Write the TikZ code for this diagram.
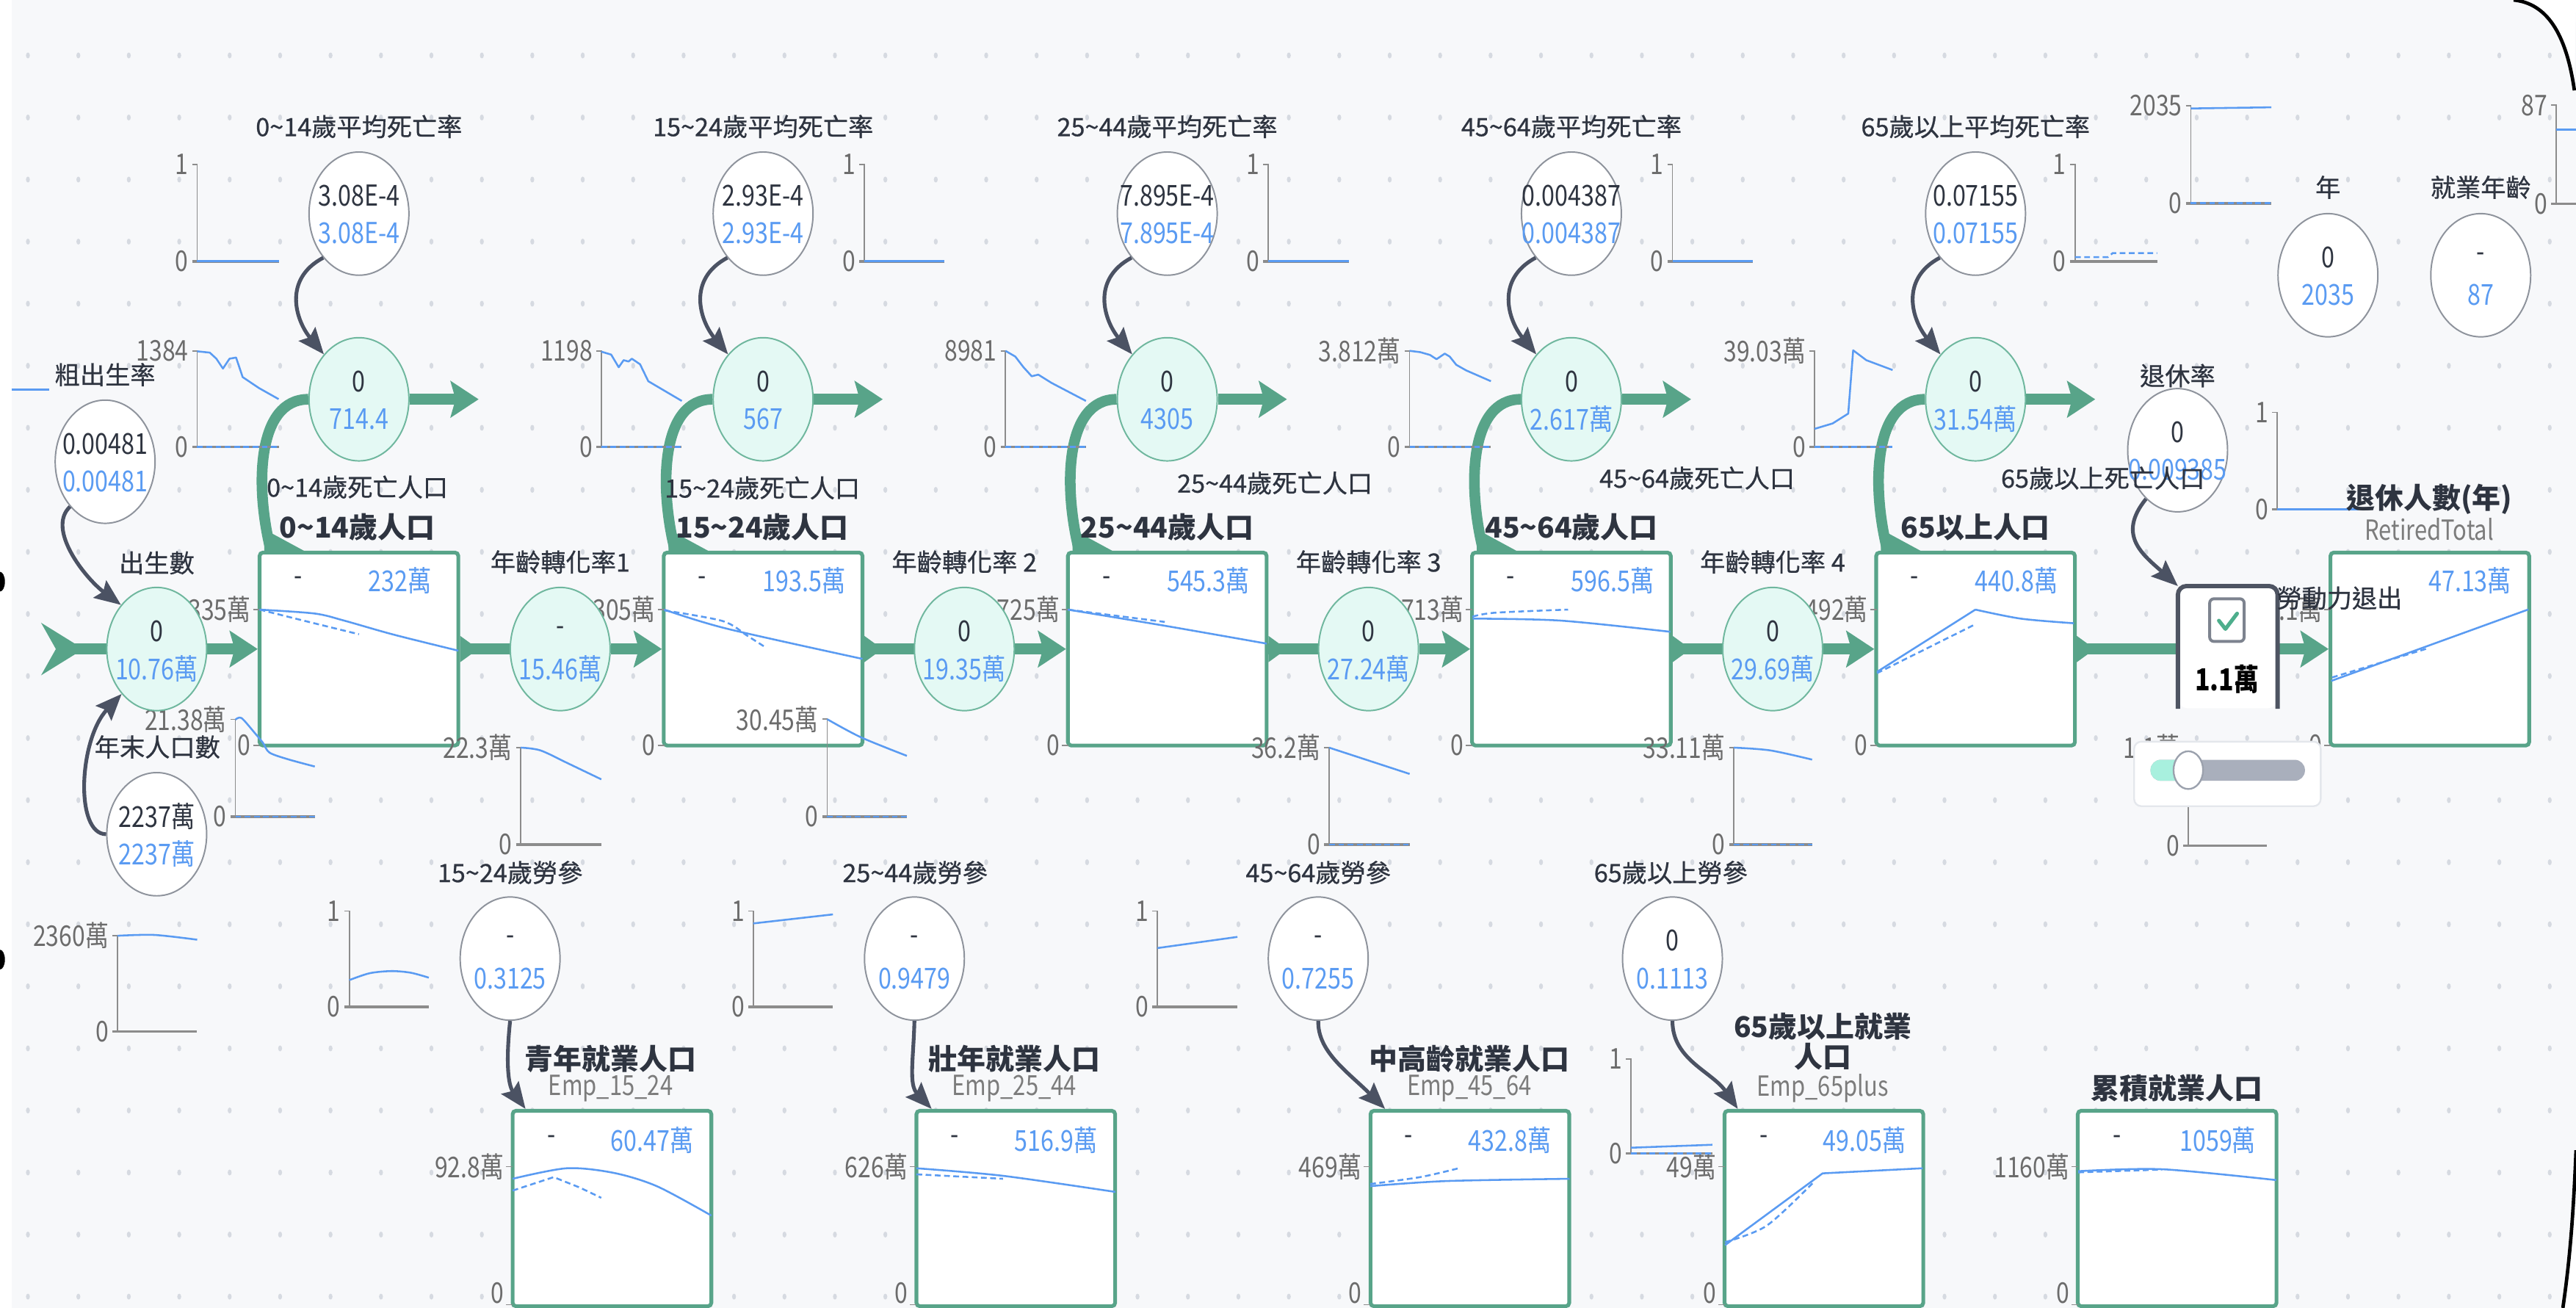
\documentclass[tikz,border=0pt]{standalone}
\usepackage{fontspec}
\setmainfont{Noto Sans CJK TC}
\newfontfamily\numf{Noto Sans CJK TC}[FakeStretch=0.82]
\newfontfamily\medf{Noto Sans CJK TC}[FakeBold=0.7]
\usetikzlibrary{arrows.meta,shapes.geometric,calc}
\pgfdeclarelayer{bgl}
\pgfdeclarelayer{mid}
\pgfsetlayers{bgl,mid,main}
\definecolor{bgc}{HTML}{F7F8FA}
\definecolor{dotc}{HTML}{D6DAE1}
\definecolor{pipec}{HTML}{58A489}
\definecolor{fcfill}{HTML}{E4F9F4}
\definecolor{fcdraw}{HTML}{6FB79E}
\definecolor{acdraw}{HTML}{8E939C}
\definecolor{infoc}{HTML}{4B5263}
\definecolor{bluec}{HTML}{5A9BF2}
\definecolor{axisc}{HTML}{8C8C8C}
\definecolor{tickc}{HTML}{6C6C6C}
\definecolor{labc}{HTML}{2E3440}
\definecolor{subc}{HTML}{7C7C7C}
\definecolor{convc}{HTML}{4E5462}
\definecolor{chkc}{HTML}{7D838F}
\definecolor{checkg}{HTML}{4DAE8C}
\definecolor{trackc}{HTML}{A9AFBC}
\definecolor{mintc}{HTML}{A8F0DE}
\definecolor{knobc}{HTML}{9BA1AD}
\definecolor{panelc}{HTML}{E4E7EC}
\newcommand{\tld}{\char"7E\relax}
\newcommand{\cnode}[6]{%
  \node[#1] (#2) at (#3,#4) {};
  \node[topv] (#2a) at (#3,#4-11) {#5};
  \node[botv] (#2b) at (#3,#4+12) {#6};}
\newcommand{\spark}[7]{%
  \draw[axv] (#2-3,#3) -- (#2,#3) -- (#2,#4);
  \draw[axh] (#2-3,#4) -- (#5,#4);
  \node[ticklab] (#1t) at (#2-5,#3) {#6};
  \node[ticklab] (#1b) at (#2-5,#4) {#7};}
\newcommand{\boxaxis}[6]{%
  \draw[axv] (#2-4,#3) -- (#2,#3);
  \draw[axv] (#2-4,#4) -- (#2,#4);
  \node[ticklab] (#1t) at (#2-5,#3) {#5};
  \node[ticklab] (#1z) at (#2-5,#6) {0};}
\begin{document}
\begin{tikzpicture}[x=0.02cm,y=-0.02cm,
 pipe/.style={draw=pipec,line width=0.13cm},
 phead/.style={-{Stealth[length=0.34cm,width=0.44cm,inset=0.06cm]}},
 info/.style={draw=infoc,line width=1.3pt,-{Stealth[length=0.32cm,width=0.26cm,inset=0.05cm]}},
 fc/.style={ellipse,draw=fcdraw,line width=0.5pt,fill=fcfill,minimum width=1.216cm,minimum height=1.5cm,inner sep=0pt},
 ac/.style={ellipse,draw=acdraw,line width=0.5pt,fill=white,minimum width=1.216cm,minimum height=1.5cm,inner sep=0pt},
 topv/.style={font=\numf\fontsize{10}{12}\selectfont,text=labc,inner sep=0pt},
 botv/.style={font=\numf\fontsize{10}{12}\selectfont,text=bluec,inner sep=0pt},
 stockbox/.style={rectangle,draw=pipec,line width=1.3pt,fill=white,minimum width=2.42cm,minimum height=2.35cm,inner sep=0pt,rounded corners=1.2pt},
 empbox/.style={stockbox,minimum height=2.38cm},
 auxlab/.style={font=\medf\fontsize{8.7}{10}\selectfont,text=labc,inner sep=0pt},
 stocklab/.style={font=\bfseries\fontsize{9.9}{12}\selectfont,text=labc,inner sep=0pt},
 sublab/.style={font=\numf\fontsize{9.6}{11}\selectfont,text=subc,inner sep=0pt},
 ticklab/.style={font=\numf\fontsize{9.9}{11}\selectfont,text=tickc,inner sep=0pt,anchor=east},
 axv/.style={draw=axisc,line width=0.45pt},
 axh/.style={draw=axisc,line width=0.9pt},
 bl/.style={draw=bluec,line width=0.65pt,line join=round},
 bld/.style={draw=bluec,line width=0.65pt,dash pattern=on 2pt off 1.2pt},
]
\useasboundingbox (0,0) rectangle (1568,796);
\begin{pgfonlayer}{bgl}
\fill[white] (0,0) rectangle (1568,796);
\fill[bgc] (7,0) rectangle (1568,796);
\foreach \i in {0,...,50}{\foreach \j in {-1,...,19}{\fill[dotc] (17+30.7*\i,71.5+37.77*\j) ellipse [x radius=0.024cm,y radius=0.036cm];}}
\end{pgfonlayer}

% ---------- stock boxes ----------
\node[stockbox] (s1) at (218.5,395) {};
\node[stockbox] (s2) at (464.5,395) {};
\node[stockbox] (s3) at (710.5,395) {};
\node[stockbox] (s4) at (956.5,395) {};
\node[stockbox] (s5) at (1202.5,395) {};
\node[stockbox] (ret) at (1479,395) {};
\node[empbox] (e1) at (372.5,735.5) {};
\node[empbox] (e2) at (618.3,735.5) {};
\node[empbox] (e3) at (894.7,735.5) {};
\node[empbox] (e4) at (1110.2,735.5) {};
\node[empbox] (e5) at (1325.2,735.5) {};

% box axes
\boxaxis{s1}{158}{371}{453.7}{335萬}{453.7}
\boxaxis{s2}{404.3}{371}{453.7}{305萬}{453.7}
\boxaxis{s3}{650.3}{371}{453.7}{725萬}{453.7}
\boxaxis{s4}{896.3}{371}{453.7}{713萬}{453.7}
\boxaxis{s5}{1142.3}{371}{453.7}{492萬}{453.7}
\boxaxis{rt}{1418.8}{371}{453.7}{1.1萬}{453.7}
\boxaxis{e1}{312}{710}{794}{92.8萬}{787}
\boxaxis{e2}{557.8}{710}{794}{626萬}{787}
\boxaxis{e3}{834}{710}{794}{469萬}{787}
\boxaxis{e4}{1050}{710}{794}{49萬}{787}
\boxaxis{e5}{1265}{710}{794}{1160萬}{787}

% box lines
\draw[bl] plot[smooth] coordinates {(158,371) (191.6,373.4) (209.5,377.7) (239.5,386.2) (279,396)};
\draw[bld] plot[smooth] coordinates {(158,371) (190,379) (218.5,386)};
\draw[bl] plot[smooth] coordinates {(404.3,371) (442,382.5) (525,401)};
\draw[bld] plot[smooth] coordinates {(404.5,371.5) (440,378) (455,387) (466,394)};
\draw[bl] plot[smooth] coordinates {(650,371) (710,381) (771,391.7)};
\draw[bld] (650,371) -- (709,378.5);
\draw[bl] plot[smooth] coordinates {(896.3,376.5) (950,377.7) (1016.7,384.5)};
\draw[bld] plot[smooth] coordinates {(896.3,375.3) (910,372.9) (954.5,371)};
\draw[bl] (1142.5,408.9) -- (1202.4,371);
\draw[bl] plot[smooth] coordinates {(1202.4,371) (1230,376.5) (1262.3,379.3)};
\draw[bld] (1142.5,409.7) -- (1201,380.6);
\draw[bl] (1419,414.4) -- (1539,370.9);
\draw[bld] (1419.5,412.3) -- (1477,394.8);
\draw[bl] plot[smooth] coordinates {(312,717.4) (345,711) (373.5,713.8) (400,722) (433,739.8)};
\draw[bld] (312,724.6) -- (337,716.4) -- (353,722.8) -- (366,729);
\draw[bl] plot[smooth] coordinates {(557.8,711) (610.5,715.6) (678.9,725.4)};
\draw[bld] (557.8,714.7) -- (610.5,717.4);
\draw[bl] plot[smooth] coordinates {(834,721.9) (880,718.8) (955.4,717.4)};
\draw[bld] plot[smooth] coordinates {(834,720.6) (864.4,716.4) (887.9,711)};
\draw[bl] (1050,757.8) -- (1109.4,714.1) -- (1170.3,711);
\draw[bld] plot[smooth] coordinates {(1050,756) (1075.3,746) (1103.4,720)};
\draw[bl] plot[smooth] coordinates {(1265,712.8) (1316,711.6) (1385.5,718.2)};
\draw[bld] (1265,713.5) -- (1316,711.8);

% box values
\node[topv] (s1m) at (181.5,353.5) {-};
\node[botv] (s1v) at (243.5,353.5) {232萬};
\node[topv] (s2m) at (427.5,353.5) {-};
\node[botv] (s2v) at (489.5,353.5) {193.5萬};
\node[topv] (s3m) at (673.5,353.5) {-};
\node[botv] (s3v) at (735.5,353.5) {545.3萬};
\node[topv] (s4m) at (919.5,353.5) {-};
\node[botv] (s4v) at (981.5,353.5) {596.5萬};
\node[topv] (s5m) at (1165.5,353.5) {-};
\node[botv] (s5v) at (1227.5,353.5) {440.8萬};
\node[botv] (retv) at (1503.5,353.5) {47.13萬};
\node[topv] (e1m) at (335.5,694) {-};
\node[botv] (e1v) at (397,694) {60.47萬};
\node[topv] (e2m) at (581.3,694) {-};
\node[botv] (e2v) at (642.8,694) {516.9萬};
\node[topv] (e3m) at (857.5,694) {-};
\node[botv] (e3v) at (919,694) {432.8萬};
\node[topv] (e4m) at (1073.5,694) {-};
\node[botv] (e4v) at (1135,694) {49.05萬};
\node[topv] (e5m) at (1288.5,694) {-};
\node[botv] (e5v) at (1350,694) {1059萬};

% ---------- sparkline charts ----------
\draw[bl] (7,237) -- (30,237);
\spark{rc1}{120}{100}{159}{170}{1}{0}
\draw[bl] (120,159) -- (170,159);
\spark{rc2}{526}{100}{159}{575}{1}{0}
\draw[bl] (526,159) -- (575,159);
\spark{rc3}{772}{100}{159}{821}{1}{0}
\draw[bl] (772,159) -- (821,159);
\spark{rc4}{1018}{100}{159}{1067}{1}{0}
\draw[bl] (1018,159) -- (1067,159);
\spark{rc5}{1263}{100}{159}{1313}{1}{0}
\draw[bld] (1263,156.5) -- (1283,156.5) -- (1286,154) -- (1313,154);

\spark{dc1}{120}{213.5}{272}{170}{1384}{0}
\draw[bld] (120,272) -- (170,272);
\draw[bl] (120,213.8) -- (127.7,214.6) -- (131.7,218.3) -- (135.7,224.3) -- (139.7,218.3) -- (143.7,217.6) -- (147.7,229.5) -- (157.7,236.2) -- (169.6,242.9);
\spark{dc2}{366}{213.5}{272}{415}{1198}{0}
\draw[bld] (366,272) -- (415,272);
\draw[bl] (366,214) -- (372,215.8) -- (376.6,223.5) -- (379.6,219.2) -- (382.6,220) -- (384.6,218.3) -- (389.6,221.7) -- (394.6,232) -- (415,244);
\spark{dc3}{612}{213.5}{272}{661}{8981}{0}
\draw[bld] (612,272) -- (661,272);
\draw[bl] (612,213.5) -- (618,217) -- (623,223.5) -- (628,229) -- (632,228) -- (640,233) -- (661,244);
\spark{dc4}{858}{213.5}{272}{907.5}{3.812萬}{0}
\draw[bld] (858,272) -- (907.5,272);
\draw[bl] (858,213.5) -- (864.4,214.3) -- (870.4,216) -- (874.4,218.6) -- (879.4,215.2) -- (882.4,217) -- (886.4,222) -- (892.4,225.4) -- (907.5,232);
\spark{dc5}{1104.5}{213.5}{272}{1152}{39.03萬}{0}
\draw[bld] (1104.5,272) -- (1152,272);
\draw[bl] (1104.5,261) -- (1115.5,257.7) -- (1125,251.7) -- (1128,213.2) -- (1136,219.2) -- (1152,225.2);

\spark{bc}{143.3}{437.8}{497}{191.6}{21.38萬}{0}
\draw[bld] (143.3,497) -- (191.6,497);
\draw[bl] plot[smooth,tension=0.5] coordinates {(143.3,438) (147,437) (155,446) (160,452) (164,458) (175,462) (191.6,466.5)};
\spark{tc1}{317}{455}{514}{366}{22.3萬}{0}
\draw[bl] plot[smooth] coordinates {(317,455) (329,456.7) (346,464.7) (366,474.3)};
\spark{tc2}{503.5}{437.7}{497}{552}{30.45萬}{0}
\draw[bld] (503.5,497) -- (552,497);
\draw[bl] plot[smooth] coordinates {(503.5,437.7) (524,448.7) (552,460)};
\spark{tc3}{809}{455}{514}{858}{36.2萬}{0}
\draw[bld] (809,514) -- (858,514);
\draw[bl] (809,455) -- (858,471);
\spark{tc4}{1055.4}{455}{514}{1103}{33.11萬}{0}
\draw[bld] (1055.4,514) -- (1103,514);
\draw[bl] plot[smooth] coordinates {(1055.4,455) (1077.6,456.7) (1103,462.3)};

\spark{popc}{71.5}{569.5}{627.8}{120}{2360萬}{0}
\draw[bl] plot[smooth] coordinates {(71.5,569.5) (94,569) (120,571.9)};
\spark{lpc1}{212.6}{554.5}{612.7}{261}{1}{0}
\draw[bl] plot[smooth] coordinates {(212.6,596.5) (225,592.3) (238.3,591) (250,592) (261,595)};
\spark{lpc2}{458.5}{554.5}{612.7}{507}{1}{0}
\draw[bl] (458.5,562) -- (507,556.5);
\spark{lpc3}{704.5}{554.5}{612.7}{753.2}{1}{0}
\draw[bl] (704.5,577) -- (753.2,570.2);
\spark{lpc4}{992.8}{644.5}{702}{1042.3}{1}{0}
\draw[bld] (992.8,702) -- (1042.3,702);
\draw[bl] (992.8,698.5) -- (1042.3,696.7);

\spark{cvc}{1332}{455}{514.6}{1380}{1.1萬}{0}
\spark{rrc}{1386}{251}{310}{1435.5}{1}{0}
\draw[bl] (1386,310) -- (1435.5,310);
\spark{yrc}{1333.5}{64.4}{123.7}{1382.5}{2035}{0}
\draw[bld] (1333.5,123.7) -- (1382.5,123.7);
\draw[bl] (1333.5,66) -- (1382.5,65.3);
\spark{eac}{1556}{64}{124}{1568}{87}{0}
\draw[bl] (1556,79) -- (1568,79);

% ---------- circles ----------
\cnode{ac}{cbr}{64}{281}{0.00481}{0.00481}
\cnode{fc}{birth}{95.4}{395}{0}{10.76萬}
\cnode{ac}{pop}{95.4}{507.7}{2237萬}{2237萬}
\cnode{ac}{r1}{218.5}{130}{3.08E-4}{3.08E-4}
\cnode{ac}{r2}{464.5}{130}{2.93E-4}{2.93E-4}
\cnode{ac}{r3}{710.5}{130}{7.895E-4}{7.895E-4}
\cnode{ac}{r4}{956.5}{130}{0.004387}{0.004387}
\cnode{ac}{r5}{1202.5}{130}{0.07155}{0.07155}
\cnode{fc}{f1}{218.5}{243}{0}{714.4}
\cnode{fc}{f2}{464.5}{243}{0}{567}
\cnode{fc}{f3}{710.5}{243}{0}{4305}
\cnode{fc}{f4}{956.5}{243}{0}{2.617萬}
\cnode{fc}{f5}{1202.5}{243}{0}{31.54萬}
\cnode{fc}{t1}{341}{395}{-}{15.46萬}
\cnode{fc}{t2}{587}{395}{0}{19.35萬}
\cnode{fc}{t3}{833}{395}{0}{27.24萬}
\cnode{fc}{t4}{1079}{395}{0}{29.69萬}
\cnode{ac}{rr}{1325.5}{274}{0}{0.009385}
\cnode{ac}{yr}{1417}{167.5}{0}{2035}
\cnode{ac}{ea}{1510}{167.5}{-}{87}
\cnode{ac}{lp1}{310.5}{583.4}{-}{0.3125}
\cnode{ac}{lp2}{556.6}{583.4}{-}{0.9479}
\cnode{ac}{lp3}{802.4}{583.4}{-}{0.7255}
\cnode{ac}{lp4}{1018}{583.4}{0}{0.1113}

% ---------- converter and slider ----------
\node[fill=white,minimum width=1.2cm,minimum height=1.48cm,inner sep=0pt,rounded corners=3pt] (conv) at (1356,394) {};
\draw[convc,line width=1.5pt,rounded corners=3pt] (conv.south west) -- (conv.north west) -- (conv.north east) -- (conv.south east);
\node[draw=chkc,line width=1pt,fill=white,rounded corners=1.5pt,minimum width=0.42cm,minimum height=0.52cm,inner sep=0pt] (chk) at (1355.5,377.4) {};
\draw[checkg,line width=1.3pt,line cap=round,line join=round] (1350.6,377.7) -- (1354.6,382.8) -- (1361.7,373.4);
\node[font=\numf\bfseries\fontsize{10.5}{12}\selectfont,text=black,inner sep=0pt] (convv) at (1355.6,413.5) {1.1萬};
\node[fill=white,draw=panelc,line width=0.6pt,rounded corners=2.5pt,minimum width=2.272cm,minimum height=0.786cm,inner sep=0pt] (panel) at (1355.8,471) {};
\fill[trackc,rounded corners=0.125cm] (1309,462.4) rectangle (1403,475.2);
\fill[mintc,rounded corners=0.125cm] (1309,462.4) rectangle (1338,475.2);
\node[ellipse,fill=white,draw=knobc,line width=0.6pt,minimum width=0.36cm,minimum height=0.46cm,inner sep=0pt] (knob) at (1332,468.7) {};

% ---------- labels ----------
\node[auxlab] (lr1) at (218.5,77) {0\tld 14歲平均死亡率};
\node[auxlab] (lr2) at (464.5,77) {15\tld 24歲平均死亡率};
\node[auxlab] (lr3) at (710.5,77) {25\tld 44歲平均死亡率};
\node[auxlab] (lr4) at (956.5,77) {45\tld 64歲平均死亡率};
\node[auxlab] (lr5) at (1202.5,77) {65歲以上平均死亡率};
\node[auxlab] (ld1) at (217.5,296.5) {0\tld 14歲死亡人口};
\node[auxlab] (ld2) at (464,297) {15\tld 24歲死亡人口};
\node[auxlab] (ld3) at (776,294) {25\tld 44歲死亡人口};
\node[auxlab] (ld4) at (1033,291) {45\tld 64歲死亡人口};
\node[auxlab] (ld5) at (1280,291) {65歲以上死亡人口};
\node[stocklab] (ls1) at (217.5,321) {0\tld 14歲人口};
\node[stocklab] (ls2) at (464,321) {15\tld 24歲人口};
\node[stocklab] (ls3) at (710.5,321) {25\tld 44歲人口};
\node[stocklab] (ls4) at (956.5,321) {45\tld 64歲人口};
\node[stocklab] (ls5) at (1202.5,321) {65以上人口};
\node[stocklab] (lret) at (1478.7,304) {退休人數(年)};
\node[sublab] (lret2) at (1478.7,322) {RetiredTotal};
\node[auxlab] (lt0) at (95.4,342.6) {出生數};
\node[auxlab] (lt1) at (341,342) {年齡轉化率1};
\node[auxlab] (lt2) at (587,342) {年齡轉化率 2};
\node[auxlab] (lt3) at (833,342) {年齡轉化率 3};
\node[auxlab] (lt4) at (1079,342) {年齡轉化率 4};
\node[auxlab] (lconv) at (1424,364) {勞動力退出};
\node[auxlab] (lcbr) at (64,228) {粗出生率};
\node[auxlab] (lpop) at (95.8,454.6) {年末人口數};
\node[auxlab] (lrr) at (1325.5,228.6) {退休率};
\node[auxlab] (lyr) at (1417,114) {年};
\node[auxlab] (lea) at (1510,114) {就業年齡};
\node[auxlab] (llp1) at (310.5,531) {15\tld 24歲勞參};
\node[auxlab] (llp2) at (557,531) {25\tld 44歲勞參};
\node[auxlab] (llp3) at (802.4,531) {45\tld 64歲勞參};
\node[auxlab] (llp4) at (1017,531) {65歲以上勞參};
\node[stocklab] (le1) at (371.7,644.5) {青年就業人口};
\node[sublab] (le1s) at (371.7,662.5) {Emp\_15\_24};
\node[stocklab] (le2) at (617.4,644.5) {壯年就業人口};
\node[sublab] (le2s) at (617.4,662.5) {Emp\_25\_44};
\node[stocklab] (le3) at (894.3,644.5) {中高齡就業人口};
\node[sublab] (le3s) at (894.3,662.5) {Emp\_45\_64};
\node[stocklab,align=center,font=\bfseries\fontsize{9.9}{9.2}\selectfont] (le4) at (1109.4,633.7) {65歲以上就業\\人口};
\node[sublab] (le4s) at (1109.4,662.5) {Emp\_65plus};
\node[stocklab] (le5) at (1325,662.5) {累積就業人口};

% ---------- info links ----------
\foreach \k in {1,...,5}{\draw[info] (r\k.231) .. controls ($(r\k.center)+(-46.5,40)$) and ($(r\k.center)+(-38.5,65)$) .. (f\k.128);}
\draw[info] (cbr.232) .. controls ($(cbr.center)+(-36,41)$) and ($(cbr.center)+(-12,71)$) .. (birth.129);
\draw[info] (pop.west) .. controls ($(pop.center)+(-50,0)$) and ($(pop.center)+(-47.4,-57.7)$) .. (birth.232);
\draw[info] (rr.237) .. controls ($(rr.center)+(-37.5,52)$) and ($(rr.center)+(-20.5,64)$) .. (conv.north west);
\coordinate (e1in) at ($(e1.north west)+(9,0)$);
\coordinate (e2in) at ($(e2.north west)+(10.4,0)$);
\coordinate (e3in) at ($(e3.north west)+(10,0)$);
\coordinate (e4in) at ($(e4.north west)+(9.2,0)$);
\draw[info] (lp1.south) .. controls ($(lp1.center)+(-2.5,61.6)$) and ($(lp1.center)+(-1.5,76.6)$) .. (e1in);
\draw[info] (lp2.south) .. controls ($(lp2.center)+(-0.6,61.6)$) and ($(lp2.center)+(-3.6,76.6)$) .. (e2in);
\draw[info] (lp3.south) .. controls ($(lp3.center)+(-0.4,56.6)$) and ($(lp3.center)+(17.6,68.6)$) .. (e3in);
\draw[info] (lp4.south) .. controls ($(lp4.center)+(0,61.6)$) and ($(lp4.center)+(24,68.6)$) .. (e4in);

% ---------- edges of the screenshot ----------
\fill[white] (1568,700) .. controls (1566,750) and (1563,775) .. (1560,796) -- (1568,796) -- cycle;
\draw[black,line width=1.2pt] (1568,700) .. controls (1566,750) and (1563,775) .. (1560,796);
\fill[white] (1530,0) .. controls (1550,2) and (1562,20) .. (1567,55) -- (1568,0) -- cycle;
\draw[black,line width=1.2pt] (1530,0) .. controls (1550,2) and (1562,20) .. (1567,55);
\fill[black] (0,354) ellipse [x radius=0.06cm,y radius=0.12cm];
\fill[black] (0,584) ellipse [x radius=0.06cm,y radius=0.12cm];

% ---------- stock-and-flow pipes (below everything) ----------
\begin{pgfonlayer}{mid}
\coordinate (src) at (36,395);
\fill[pipec] (25,379) -- (46,392) -- (46,398) -- (25,411) -- (34,395) -- cycle;
\draw[pipe] (src) -- (birth.center);
\draw[pipe,phead] (birth.east) -- (s1.west);
\draw[pipe] (s1.east) -- (t1.center);
\draw[pipe,phead] (t1.east) -- (s2.west);
\draw[pipe] (s2.east) -- (t2.center);
\draw[pipe,phead] (t2.east) -- (s3.west);
\draw[pipe] (s3.east) -- (t3.center);
\draw[pipe,phead] (t3.east) -- (s4.west);
\draw[pipe] (s4.east) -- (t4.center);
\draw[pipe,phead] (t4.east) -- (s5.west);
\draw[pipe,phead] (s5.east) -- (ret.west);
\foreach \bx in {s1,s2,s3,s4,s5}{\fill[pipec] ($(\bx.east)+(0,-8)$) -- ($(\bx.east)+(11,0)$) -- ($(\bx.east)+(0,8)$) -- cycle;}
\foreach \bx/\fx in {s1/f1,s2/f2,s3/f3,s4/f4,s5/f5}{
  \coordinate (\fx-end) at ($(\fx.east)+(42,0)$);
  \draw[pipe] ($(\bx.north west)+(8,0)$) .. controls ($(\bx.north west)+(-2,-40)$) and ($(\fx.west)+(-31,0)$) .. (\fx.west);
  \fill[pipec] ($(\bx.north west)+(4,0)$) -- ($(\bx.north west)+(28,0)$) -- ($(\bx.north west)+(4,-13)$) -- cycle;
  \draw[pipe,phead] (\fx.east) -- (\fx-end);
}
\end{pgfonlayer}
\end{tikzpicture}
\end{document}
